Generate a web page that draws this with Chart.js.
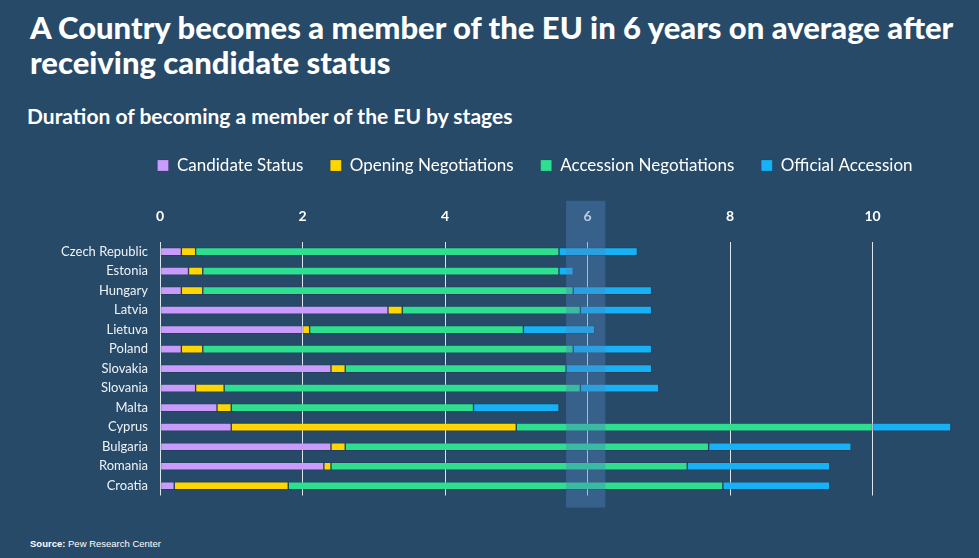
<!DOCTYPE html>
<html>
<head>
<meta charset="utf-8">
<script src="https://cdn.jsdelivr.net/npm/chart.js@4.4.1/dist/chart.umd.min.js"></script>
<style>
  body { margin:0; width:979px; height:558px; background:#284a69; overflow:hidden; font-family:Lato, sans-serif; color:#fff; position:relative; }
  h1 { position:absolute; left:30px; top:10px; margin:0; font-size:31px; line-height:35px; font-weight:900; }
  h2 { position:absolute; left:27px; top:103px; margin:0; font-size:21px; line-height:26px; font-weight:700; }
  .source { position:absolute; left:30px; top:538px; font-family:"Liberation Sans", Arial, sans-serif; font-size:9.5px; }
  #wrap { position:absolute; left:0; top:137px; width:979px; height:375px; }
</style>
</head>
<body>
<h1>A Country becomes a member of the EU in 6 years on average after<br>receiving candidate status</h1>
<h2>Duration of becoming a member of the EU by stages</h2>
<div id="wrap"><canvas id="myChart"></canvas></div>
<div class="source"><b>Source:</b> Pew Research Center</div>
<script>
const countries = ['Czech Republic','Estonia','Hungary','Latvia','Lietuva','Poland','Slovakia','Slovania','Malta','Cyprus','Bulgaria','Romania','Croatia'];
// years spent in each stage
const candidateStatus     = [0.3,0.4,0.3,3.2,2.0,0.3,2.4,0.5,0.8,1.0,2.4,2.3,0.2];
const openingNegotiations = [0.2,0.2,0.3,0.2,0.1,0.3,0.2,0.4,0.2,4.0,0.2,0.1,1.6];
const accessionNegotiations = [5.1,5.0,5.2,2.5,3.0,5.2,3.1,5.0,3.4,5.0,5.1,5.0,6.1];
const officialAccession   = [1.1,0.2,1.1,1.0,1.0,1.1,1.2,1.1,1.2,1.1,2.0,2.0,1.5];
const xTicks = [0,2,4,6,8,10];
const highlightFrom = 5.7;
const highlightTo = 6.25;

const band = {
  id: 'band',
  afterLayout(chart){
    // legend sits right of the canvas centre and higher than its slot
    const lg = chart.legend;
    lg.left = 112;
    lg.right = 958;
    lg.top -= 7;
    lg.bottom -= 7;
  },
  afterDraw(chart){
    const {ctx, chartArea, scales:{x}} = chart;
    const x1 = x.getPixelForValue(highlightFrom);
    const x2 = x.getPixelForValue(highlightTo);
    ctx.save();
    ctx.fillStyle = 'rgba(77,130,190,0.4)';
    ctx.fillRect(x1, chartArea.top - 41, x2 - x1, chartArea.bottom - chartArea.top + 53);
    ctx.restore();
  }
};

function makeSet(label, data, color){
  return { label: label, data: data, backgroundColor: color, borderColor: 'rgba(0,0,0,0.12)', borderWidth: 1, borderSkipped: false, barThickness: 8 };
}

const ctx = document.getElementById('myChart');
new Chart(ctx, {
  type: 'bar',
  data: {
    labels: countries,
    datasets: [
      makeSet('Candidate Status', candidateStatus, '#c99bfd'),
      makeSet('Opening Negotiations', openingNegotiations, '#ffd600'),
      makeSet('Accession Negotiations', accessionNegotiations, '#2ddf8f'),
      makeSet('Official Accession', officialAccession, '#16b2f5')
    ]
  },
  options: {
    indexAxis: 'y',
    responsive: true,
    maintainAspectRatio: false,
    animation: false,
    layout: { padding: { left: 0, right: 21, top: 0, bottom: 16.5 } },
    plugins: {
      tooltip: { enabled: false },
      legend: {
        position: 'top',
        labels: {
          color: '#ffffff',
          font: { family: 'Lato', size: 17 },
          boxWidth: 11,
          boxHeight: 11,
          padding: 27
        }
      }
    },
    scales: {
      x: {
        position: 'top',
        stacked: true,
        min: 0,
        max: 11.2,
        afterBuildTicks: scale => { scale.ticks = xTicks.map(v => ({value: v})); },
        grid: { color: '#dde5ee', lineWidth: 1, drawTicks: false },
        border: { display: false },
        ticks: { color: '#ffffff', font: { family: 'Lato', size: 14, weight: 'bold' }, padding: 17 }
      },
      y: {
        stacked: true,
        afterFit: scale => { scale.width = 160; },
        grid: { display: false },
        border: { display: false },
        ticks: { color: '#eef3f8', font: { family: 'Lato', size: 13 }, padding: 4 }
      }
    }
  },
  plugins: [band]
});
</script>
</body>
</html>
